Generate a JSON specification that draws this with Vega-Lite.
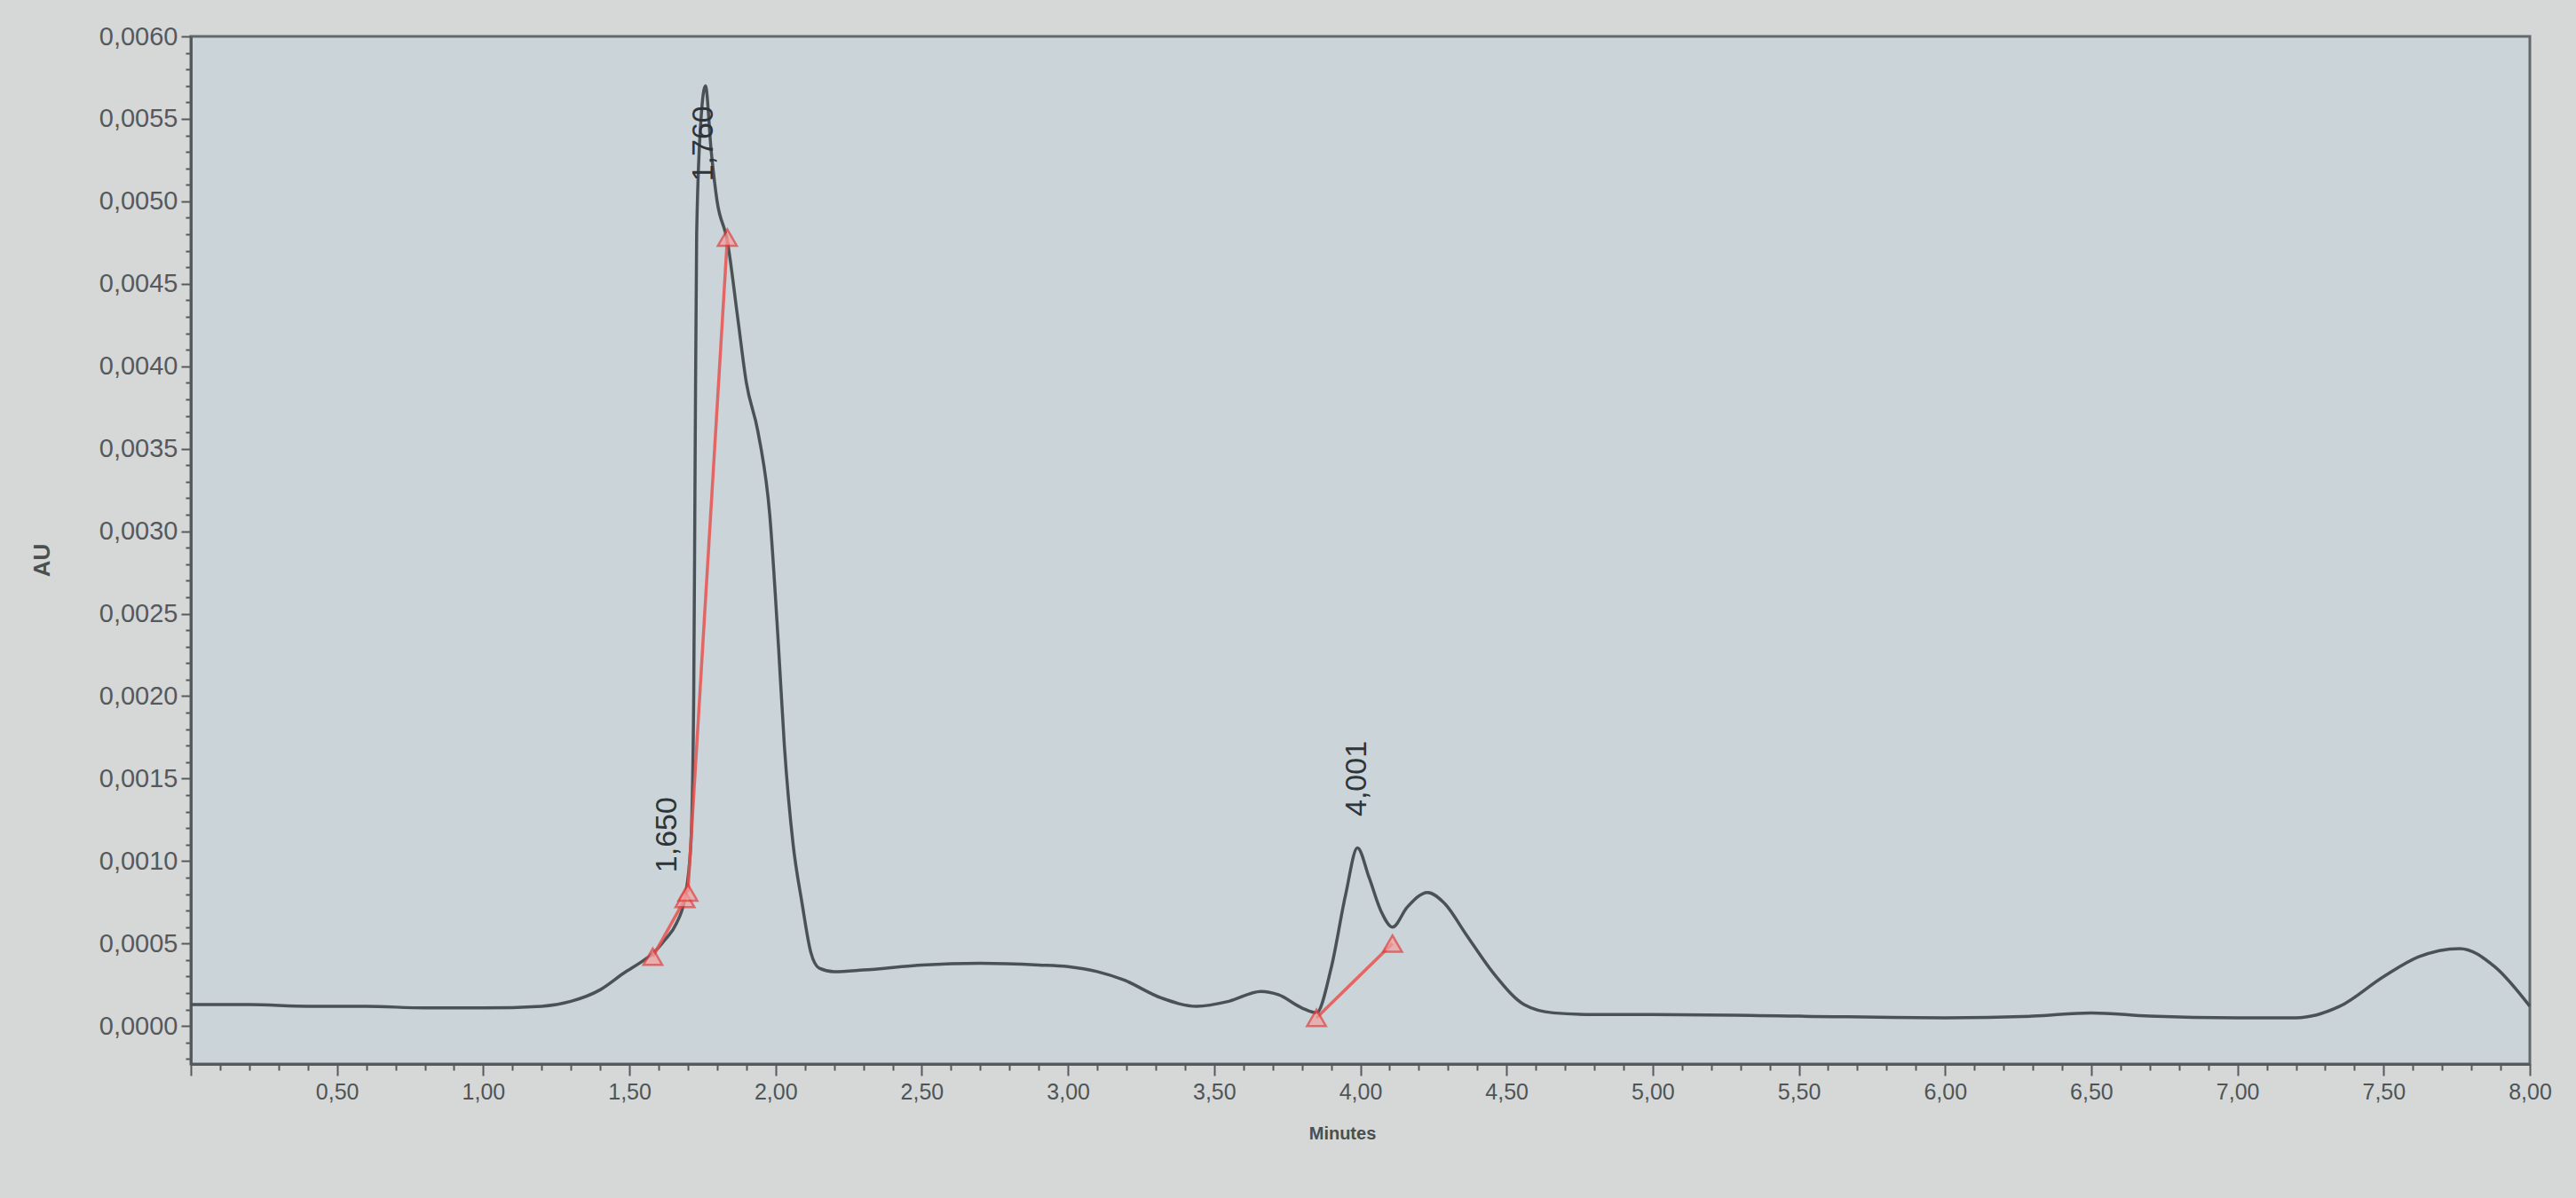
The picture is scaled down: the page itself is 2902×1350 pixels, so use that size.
{
  "$schema": "https://vega.github.io/schema/vega-lite/v6.json",
  "autosize": {"type": "none"},
  "width": 2635,
  "height": 1158,
  "padding": {"left": 215, "top": 41, "right": 52, "bottom": 151},
  "background": "#d5d8d6",
  "config": {
    "view": {"fill": "#cad4d9", "stroke": "#62686b", "strokeWidth": 3},
    "font": "Liberation Sans"
  },
  "datasets": {
    "trace": [
      {"t": 0.00, "au": 0.00013}, {"t": 0.20, "au": 0.00013}, {"t": 0.40, "au": 0.00012},
      {"t": 0.60, "au": 0.00012}, {"t": 0.80, "au": 0.00011}, {"t": 1.00, "au": 0.00011},
      {"t": 1.20, "au": 0.00012}, {"t": 1.30, "au": 0.00015}, {"t": 1.40, "au": 0.00022},
      {"t": 1.48, "au": 0.00032}, {"t": 1.55, "au": 0.00040}, {"t": 1.58, "au": 0.00044},
      {"t": 1.62, "au": 0.00052}, {"t": 1.66, "au": 0.00062}, {"t": 1.69, "au": 0.00078},
      {"t": 1.71, "au": 0.0011}, {"t": 1.72, "au": 0.0020}, {"t": 1.725, "au": 0.0035},
      {"t": 1.73, "au": 0.0048}, {"t": 1.745, "au": 0.0055}, {"t": 1.76, "au": 0.0057},
      {"t": 1.78, "au": 0.0053}, {"t": 1.80, "au": 0.0050}, {"t": 1.835, "au": 0.00476},
      {"t": 1.87, "au": 0.0043}, {"t": 1.90, "au": 0.0039}, {"t": 1.94, "au": 0.0036},
      {"t": 1.98, "au": 0.0031}, {"t": 2.01, "au": 0.0023}, {"t": 2.03, "au": 0.0017},
      {"t": 2.06, "au": 0.0011}, {"t": 2.09, "au": 0.00075}, {"t": 2.12, "au": 0.00045},
      {"t": 2.15, "au": 0.00035}, {"t": 2.20, "au": 0.00033}, {"t": 2.30, "au": 0.00034},
      {"t": 2.50, "au": 0.00037}, {"t": 2.70, "au": 0.00038}, {"t": 2.90, "au": 0.00037},
      {"t": 3.00, "au": 0.00036}, {"t": 3.10, "au": 0.00033}, {"t": 3.19, "au": 0.00028},
      {"t": 3.32, "au": 0.00017}, {"t": 3.44, "au": 0.00012}, {"t": 3.55, "au": 0.00015},
      {"t": 3.66, "au": 0.00021}, {"t": 3.72, "au": 0.00019}, {"t": 3.80, "au": 0.00011},
      {"t": 3.85, "au": 0.00008}, {"t": 3.90, "au": 0.00035}, {"t": 3.95, "au": 0.0008},
      {"t": 3.99, "au": 0.00108}, {"t": 4.03, "au": 0.0009}, {"t": 4.07, "au": 0.0007},
      {"t": 4.11, "au": 0.00060}, {"t": 4.16, "au": 0.00072}, {"t": 4.23, "au": 0.00081},
      {"t": 4.29, "au": 0.00074}, {"t": 4.36, "au": 0.00056}, {"t": 4.46, "au": 0.00031},
      {"t": 4.56, "au": 0.00013}, {"t": 4.66, "au": 0.00008}, {"t": 4.80, "au": 0.00007},
      {"t": 5.00, "au": 0.00007}, {"t": 5.50, "au": 0.00006}, {"t": 6.00, "au": 0.00005},
      {"t": 6.30, "au": 0.00006}, {"t": 6.50, "au": 0.00008}, {"t": 6.70, "au": 0.00006},
      {"t": 7.00, "au": 0.00005}, {"t": 7.20, "au": 0.00005}, {"t": 7.35, "au": 0.00012},
      {"t": 7.50, "au": 0.00030}, {"t": 7.62, "au": 0.00042}, {"t": 7.76, "au": 0.00047},
      {"t": 7.88, "au": 0.00036}, {"t": 8.00, "au": 0.00012}
    ],
    "baseline": [
      {"seg": "a", "t": 1.58, "au": 0.00042}, {"seg": "a", "t": 1.69, "au": 0.00077},
      {"seg": "b", "t": 1.70, "au": 0.00081}, {"seg": "b", "t": 1.835, "au": 0.00478},
      {"seg": "c", "t": 3.85, "au": 0.00005}, {"seg": "c", "t": 4.11, "au": 0.00050}
    ],
    "labels": [
      {"t": 1.63, "au": 0.00116, "txt": "1,650"},
      {"t": 1.755, "au": 0.00535, "txt": "1,760"},
      {"t": 3.99, "au": 0.00150, "txt": "4,001"}
    ]
  },
  "encoding": {
    "x": {
      "field": "t", "type": "quantitative",
      "scale": {"domain": [0, 8], "nice": false, "zero": false},
      "axis": {
        "values": [0,0.1,0.2,0.3,0.4,0.5,0.6,0.7,0.8,0.9,1,1.1,1.2,1.3,1.4,1.5,1.6,1.7,1.8,1.9,2,2.1,2.2,2.3,2.4,2.5,2.6,2.7,2.8,2.9,3,3.1,3.2,3.3,3.4,3.5,3.6,3.7,3.8,3.9,4,4.1,4.2,4.3,4.4,4.5,4.6,4.7,4.8,4.9,5,5.1,5.2,5.3,5.4,5.5,5.6,5.7,5.8,5.9,6,6.1,6.2,6.3,6.4,6.5,6.6,6.7,6.8,6.9,7,7.1,7.2,7.3,7.4,7.5,7.6,7.7,7.8,7.9,8],
        "labelExpr": "(abs(datum.value*2 - round(datum.value*2)) < 0.001 && datum.value > 0.01) ? replace(format(datum.value, '.2f'), '.', ',') : ''",
        "grid": false,
        "domainColor": "#555a5d", "domainWidth": 3,
        "tickColor": "#555a5d", "tickWidth": 2,
        "tickSize": {"condition": {"test": "abs(datum.value*2 - round(datum.value*2)) < 0.001", "value": 13}, "value": 7},
        "labelFont": "Liberation Sans", "labelFontSize": 25, "labelColor": "#4f5457",
        "labelPadding": 6, "labelOverlap": false, "labelFlush": false,
        "title": "Minutes", "titleFont": "Liberation Sans", "titleFontSize": 20,
        "titleFontWeight": "bold", "titleColor": "#4a4f52",
        "titleX": 1297, "titleY": 78, "titleAnchor": null, "titleAlign": "center", "titleBaseline": "middle"
      }
    },
    "y": {
      "field": "au", "type": "quantitative",
      "scale": {"domain": [-0.00023, 0.006], "nice": false, "zero": false},
      "axis": {
        "values": [-0.0002,-0.0001,0,0.0001,0.0002,0.0003,0.0004,0.0005,0.0006,0.0007,0.0008,0.0009,0.001,0.0011,0.0012,0.0013,0.0014,0.0015,0.0016,0.0017,0.0018,0.0019,0.002,0.0021,0.0022,0.0023,0.0024,0.0025,0.0026,0.0027,0.0028,0.0029,0.003,0.0031,0.0032,0.0033,0.0034,0.0035,0.0036,0.0037,0.0038,0.0039,0.004,0.0041,0.0042,0.0043,0.0044,0.0045,0.0046,0.0047,0.0048,0.0049,0.005,0.0051,0.0052,0.0053,0.0054,0.0055,0.0056,0.0057,0.0058,0.0059,0.006],
        "labelExpr": "(abs(datum.value*2000 - round(datum.value*2000)) < 0.01 && datum.value > -0.00001) ? replace(format(datum.value, '.4f'), '.', ',') : ''",
        "grid": false,
        "domainColor": "#555a5d", "domainWidth": 3,
        "tickColor": "#555a5d", "tickWidth": 2,
        "tickSize": {"condition": {"test": "abs(datum.value*2000 - round(datum.value*2000)) < 0.01", "value": 11}, "value": 6},
        "labelFont": "Liberation Sans", "labelFontSize": 29, "labelColor": "#55595c",
        "labelPadding": 4, "labelOverlap": false, "labelFlush": false,
        "title": "AU", "titleFont": "Liberation Sans", "titleFontSize": 26, "titleColor": "#4a4f52",
        "titleFontWeight": "bold", "titleAngle": 270,
        "titleX": -168, "titleY": 590, "titleAnchor": null, "titleAlign": "center", "titleBaseline": "middle"
      }
    }
  },
  "layer": [
    {
      "data": {"name": "trace"},
      "mark": {"type": "line", "color": "#4b5256", "strokeWidth": 3.5, "interpolate": "monotone"}
    },
    {
      "data": {"name": "baseline"},
      "mark": {"type": "line", "color": "#e8524f", "strokeWidth": 3.5, "opacity": 0.85},
      "encoding": {"detail": {"field": "seg"}}
    },
    {
      "data": {"name": "baseline"},
      "mark": {"type": "point", "shape": "triangle-up", "size": 450, "filled": true, "fill": "#f6a0a0", "stroke": "#e23c3a", "strokeWidth": 2.5}
    },
    {
      "data": {"name": "labels"},
      "mark": {"type": "text", "angle": 270, "align": "center", "baseline": "middle", "font": "Liberation Sans", "fontSize": 34, "color": "#2e3438"},
      "encoding": {"text": {"field": "txt"}}
    }
  ]
}
